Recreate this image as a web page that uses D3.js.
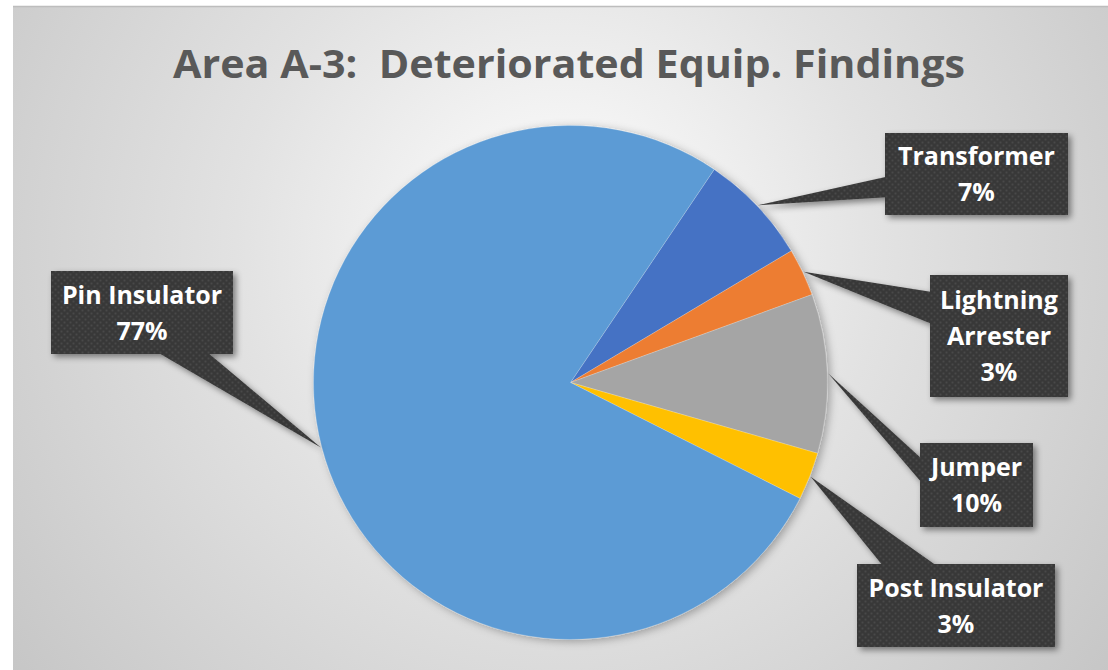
<!DOCTYPE html>
<html>
<head>
<meta charset="utf-8">
<script src="https://cdn.jsdelivr.net/npm/d3@7"></script>
<style>
  html, body { margin: 0; padding: 0; background: #fff; }
  svg { display: block; }
</style>
</head>
<body>
<svg id="chart" width="1108" height="670"></svg>
<script>
// data, clockwise from the first slice
var categories = ['Transformer', 'Lightning Arrester', 'Jumper', 'Post Insulator', 'Pin Insulator'];
var values = [7, 3, 10, 3, 77];
var labelLines = [['Transformer'], ['Lightning', 'Arrester'], ['Jumper'], ['Post Insulator'], ['Pin Insulator']];
var colors = ['#4472C4', '#ED7D31', '#A5A5A5', '#FFC000', '#5B9BD5'];
var title = 'Area A-3:  Deteriorated Equip. Findings';

// callout boxes (layout only)
var callouts = [
  { x: 885, y: 133, w: 183, h: 82, base: [[890, 176], [890, 197]] },
  { x: 930, y: 275, w: 138, h: 122, base: [[932, 292], [932, 324]] },
  { x: 920, y: 443, w: 113, h: 84, base: [[922, 459], [922, 483]] },
  { x: 857, y: 564, w: 198, h: 83, base: [[883, 566], [937, 566]] },
  { x: 51, y: 271, w: 182, h: 83, base: [[157, 352], [207, 352]] }
];

var W = 1108, H = 670;
var cx = 570.5, cy = 382.5, R = 257;
var firstAngle = 34 * Math.PI / 180;

var svg = d3.select('#chart');
var defs = svg.append('defs');

// background gradient
var grad = defs.append('radialGradient')
  .attr('id', 'bg')
  .attr('gradientUnits', 'userSpaceOnUse')
  .attr('cx', 560).attr('cy', 250).attr('r', 720);
grad.append('stop').attr('offset', '0%').attr('stop-color', '#ffffff');
grad.append('stop').attr('offset', '45%').attr('stop-color', '#e2e2e2');
grad.append('stop').attr('offset', '100%').attr('stop-color', '#c4c4c4');

// dotted texture for callouts
var pat = defs.append('pattern')
  .attr('id', 'dots')
  .attr('patternUnits', 'userSpaceOnUse')
  .attr('width', 6).attr('height', 6);
pat.append('rect').attr('width', 6).attr('height', 6).attr('fill', '#383838');
pat.append('circle').attr('cx', 1.5).attr('cy', 1.5).attr('r', 1).attr('fill', '#4a4a4a');
pat.append('circle').attr('cx', 4.5).attr('cy', 4.5).attr('r', 1).attr('fill', '#4a4a4a');

var shadow = defs.append('filter').attr('id', 'shadow')
  .attr('x', '-20%').attr('y', '-20%').attr('width', '140%').attr('height', '140%');
shadow.append('feDropShadow')
  .attr('dx', 3).attr('dy', 3).attr('stdDeviation', 3)
  .attr('flood-color', '#000').attr('flood-opacity', 0.45);

var pieShadow = defs.append('filter').attr('id', 'pieShadow')
  .attr('x', '-10%').attr('y', '-10%').attr('width', '120%').attr('height', '120%');
pieShadow.append('feDropShadow')
  .attr('dx', 3).attr('dy', 2).attr('stdDeviation', 4)
  .attr('flood-color', '#000').attr('flood-opacity', 0.3);

// chart area
svg.append('rect')
  .attr('x', 13).attr('y', 7).attr('width', W - 13).attr('height', H - 7)
  .attr('fill', 'url(#bg)');
svg.append('line')
  .attr('x1', 13).attr('x2', W).attr('y1', 6.5).attr('y2', 6.5)
  .attr('stroke', '#bdbdbd').attr('stroke-width', 1.5);

// title
svg.append('text')
  .attr('x', 569).attr('y', 78)
  .attr('text-anchor', 'middle')
  .attr('font-family', '"Open Sans", "Liberation Sans", sans-serif')
  .attr('font-weight', 700)
  .attr('font-size', 39)
  .attr('fill', '#595959')
  .attr('textLength', 792)
  .attr('lengthAdjust', 'spacingAndGlyphs')
  .style('white-space', 'pre')
  .text(title);

// pie
var pie = d3.pie()
  .sort(null)
  .value(function (d) { return d; })
  .startAngle(firstAngle)
  .endAngle(firstAngle + 2 * Math.PI);
var arcs = pie(values);
var arc = d3.arc().innerRadius(0).outerRadius(R);

var g = svg.append('g').attr('transform', 'translate(' + cx + ',' + cy + ')');
g.append('g').attr('filter', 'url(#pieShadow)')
  .selectAll('path')
  .data(arcs)
  .enter()
  .append('path')
  .attr('d', arc)
  .attr('fill', function (d, i) { return colors[i]; })
  .attr('stroke', 'rgba(255,255,255,0.35)')
  .attr('stroke-width', 0.6);

// callouts
var tipArc = d3.arc().innerRadius(R + 1).outerRadius(R + 1);
var cg = svg.append('g').selectAll('g.callout')
  .data(arcs)
  .enter()
  .append('g')
  .attr('class', 'callout')
  .attr('filter', 'url(#shadow)');

cg.append('path')
  .attr('d', function (d, i) {
    var t = tipArc.centroid(d);
    var b = callouts[i].base;
    return 'M' + (cx + t[0]) + ',' + (cy + t[1]) +
      'L' + b[0][0] + ',' + b[0][1] +
      'L' + b[1][0] + ',' + b[1][1] + 'Z';
  })
  .attr('fill', 'url(#dots)');

cg.append('rect')
  .attr('x', function (d, i) { return callouts[i].x; })
  .attr('y', function (d, i) { return callouts[i].y; })
  .attr('width', function (d, i) { return callouts[i].w; })
  .attr('height', function (d, i) { return callouts[i].h; })
  .attr('fill', 'url(#dots)');

var total = d3.sum(values);
var lineH = 36;
svg.append('g').selectAll('text')
  .data(arcs)
  .enter()
  .append('text')
  .attr('text-anchor', 'middle')
  .attr('font-family', '"Open Sans", "Liberation Sans", sans-serif')
  .attr('font-weight', 700)
  .attr('font-size', 25)
  .attr('fill', '#ffffff')
  .each(function (d, i) {
    var c = callouts[i];
    var lines = labelLines[i].concat([Math.round(d.value / total * 100) + '%']);
    var x0 = c.x + c.w / 2;
    var y0 = c.y + c.h / 2 - (lines.length - 1) * lineH / 2 + 9;
    var t = d3.select(this);
    lines.forEach(function (s, k) {
      t.append('tspan').attr('x', x0).attr('y', y0 + k * lineH).text(s);
    });
  });
</script>
</body>
</html>
